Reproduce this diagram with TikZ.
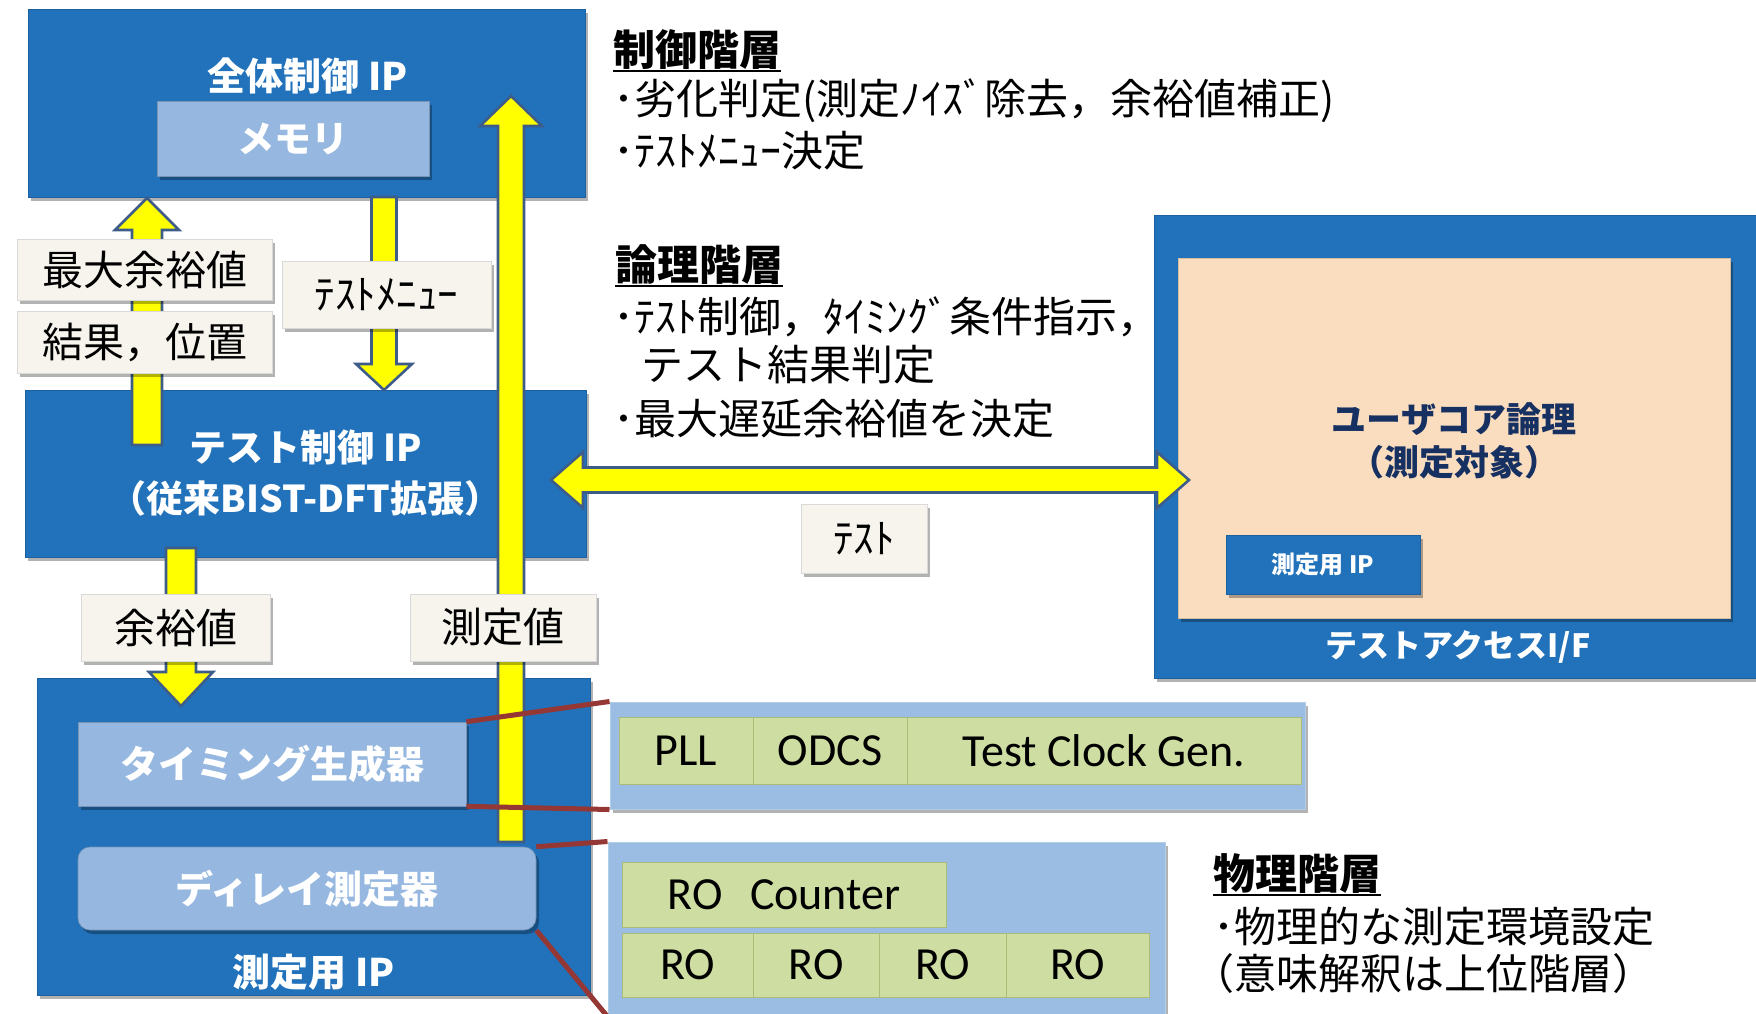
\documentclass[tikz,border=0pt]{standalone}
\usepackage{fontspec}
\setmainfont{Noto Sans CJK JP}
\newfontfamily\calib{Carlito}
\usetikzlibrary{shadows}
\definecolor{bxblue}{RGB}{33,114,187}
\definecolor{ltblue}{RGB}{150,184,224}
\definecolor{panelblue}{RGB}{155,189,228}
\definecolor{creamc}{RGB}{246,244,236}
\definecolor{greenc}{RGB}{206,221,162}
\definecolor{greenb}{RGB}{170,188,120}
\definecolor{peachc}{RGB}{250,221,190}
\definecolor{navyc}{RGB}{22,48,98}
\definecolor{arrowb}{RGB}{62,92,138}
\definecolor{redl}{RGB}{149,55,53}
\definecolor{arrowy}{RGB}{255,255,0}
\newcommand\fz[2]{\fontsize{#1}{#2}\selectfont}
\newcommand\arrUp[6]{% x, tip, bottom, shaft half, head half, head length
  \draw[yarr] ({#1-#4},#3) -- ({#1-#4},{#2+#6}) -- ({#1-#5},{#2+#6}) -- (#1,#2)
    -- ({#1+#5},{#2+#6}) -- ({#1+#4},{#2+#6}) -- ({#1+#4},#3) -- cycle;}
\newcommand\arrDown[6]{% x, top, tip, shaft half, head half, head length
  \draw[yarr] ({#1-#4},#2) -- ({#1-#4},{#3-#6}) -- ({#1-#5},{#3-#6}) -- (#1,#3)
    -- ({#1+#5},{#3-#6}) -- ({#1+#4},{#3-#6}) -- ({#1+#4},#2) -- cycle;}
\tikzset{
  shd/.style={drop shadow={shadow xshift=3pt,shadow yshift=-4pt,opacity=0.3,fill=black}},
  bluebox/.style={fill=bxblue, draw=bxblue!85!black, line width=0.6pt, shd},
  ltbox/.style={fill=ltblue, draw=ltblue!80!black, line width=0.6pt, shd, text=white, font=\fz{38}{38}\bfseries},
  lbl/.style={fill=creamc, draw=black!15, line width=0.6pt, shd, text=black, font=\fz{41}{41}},
  grn/.style={fill=greenc, draw=greenb, line width=1pt, text=black, font=\calib\fz{46}{46}},
  panel/.style={fill=panelblue, draw=bxblue!35, line width=1pt, shd},
  yarr/.style={fill=arrowy, draw=arrowb, line width=2.6pt, line join=miter},
  redline/.style={draw=redl, line width=5pt},
  wtitle/.style={text=white, font=\fz{38}{38}\bfseries},
  btxt/.style={anchor=west, font=\fz{42}{42}, inner sep=0pt, text=black},
  bhead/.style={anchor=west, font=\fz{42}{42}\bfseries, inner sep=0pt, text=black},
  uline/.style={line width=2.5pt, draw=black},
}
\begin{document}
\begin{tikzpicture}[x=1pt,y=-1pt]
\useasboundingbox (0,0) rectangle (1756,1013);
\fill[white] (0,0) rectangle (1756,1013);
\clip (0,0) rectangle (1756,1013);

% ---------- blue blocks (left) ----------
\node[bluebox, minimum width=557pt, minimum height=188pt] (ctrl) at (306.5,103) {};
\node[wtitle] (ctrlT) at (308,76) {全体制御 IP};
\node[ltbox, font=\fz{37}{37}\bfseries, minimum width=272pt, minimum height=75pt] (mem) at (293,138.5) {メモリ};

\node[bluebox, minimum width=561pt, minimum height=167pt, text=white, font=\fz{37}{51}\bfseries, align=center] (tctrl) at (305.5,473.5) {テスト制御 IP\\（従来BIST-DFT拡張）};

\node[bluebox, minimum width=553pt, minimum height=317pt] (mip) at (313.5,836.5) {};
\node[ltbox, minimum width=388pt, minimum height=84pt] (tgen) at (272,764) {タイミング生成器};
\node[ltbox, rounded corners=12pt, minimum width=458pt, minimum height=83pt] (dly) at (307,888.5) {ディレイ測定器};
\node[wtitle] (mipT) at (314,972) {測定用 IP};

% ---------- right block ----------
\node[bluebox, minimum width=616pt, minimum height=463pt] (tai) at (1462,446.5) {};
\node[fill=peachc, draw=peachc!85!black, line width=0.6pt, shd, minimum width=552pt, minimum height=360pt] (ucore) at (1454,438) {};
\node[text=navyc, font=\fz{35}{43}\bfseries, align=center] (ucoreT) at (1454,441) {ユーザコア論理\\（測定対象）};
\node[bluebox, minimum width=194pt, minimum height=59pt, text=white, font=\fz{24}{24}\bfseries] (uip) at (1323,564.5) {測定用 IP};
\node[wtitle, font=\fz{32}{32}\bfseries] (taiT) at (1458,647) {テストアクセスI/F};

% ---------- physical panels ----------
\node[panel, minimum width=695pt, minimum height=107pt] (pllp) at (957.5,755.5) {};
\node[grn, minimum width=134pt, minimum height=67pt] (pll) at (686,750.5) {PLL};
\node[grn, minimum width=154pt, minimum height=67pt] (odcs) at (830,750.5) {ODCS};
\node[grn, minimum width=394pt, minimum height=67pt] (tcg) at (1104,750.5) {Test Clock Gen.};

\node[panel, minimum width=557pt, minimum height=174pt] (rop) at (886.5,929) {};
\node[grn, minimum width=324pt, minimum height=65pt] (roc) at (784,894.5) {RO\hspace{0.6em}Counter};
\node[grn, minimum width=131pt, minimum height=64pt] (ro1) at (687.5,965) {RO};
\node[grn, minimum width=126pt, minimum height=64pt] (ro2) at (816,965) {RO};
\node[grn, minimum width=127pt, minimum height=64pt] (ro3) at (942.5,965) {RO};
\node[grn, minimum width=143pt, minimum height=64pt] (ro4) at (1077.5,965) {RO};

% ---------- yellow block arrows ----------
\arrUp{147}{198}{445}{15}{32}{32}
\arrDown{384}{197}{390}{12.5}{28}{26}
\arrUp{511}{96}{842}{13}{31}{30}
\arrDown{181}{548}{706}{15}{32}{34}
\draw[yarr] (551,480) -- (583,452) -- (583,467.5) -- (1157,467.5) -- (1157,452)
  -- (1189,480) -- (1157,508) -- (1157,492.5) -- (583,492.5) -- (583,508) -- cycle;

% ---------- red connectors ----------
\draw[redline] (tgen.north east) -- (pllp.north west);
\draw[redline] (tgen.south east) -- (pllp.south west);
\draw[redline] (dly.north east) -- (rop.north west);
\draw[redline] (dly.south east) -- (rop.south west);

% ---------- labels ----------
\node[lbl, minimum width=255pt, minimum height=61pt] (lmax) at (144.5,269.5) {最大余裕値};
\node[lbl, minimum width=255pt, minimum height=62pt] (lres) at (144.5,342) {結果，位置};
\node[lbl, minimum width=209pt, minimum height=67pt] (lmenu) at (386.5,294.5) {ﾃｽﾄﾒﾆｭｰ};
\node[lbl, minimum width=126pt, minimum height=69pt] (ltest) at (864,538.5) {ﾃｽﾄ};
\node[lbl, minimum width=189pt, minimum height=67pt] (lmar) at (175.5,627.5) {余裕値};
\node[lbl, minimum width=186pt, minimum height=67pt] (lmeas) at (503,627.5) {測定値};

% ---------- hierarchy texts ----------
\node[bhead] (h1) at (613,50) {制御階層};
\draw[uline] ([yshift=-1pt]h1.south west) -- ([yshift=-1pt]h1.south east);
\node[btxt] (c1) at (613,101) {･劣化判定(測定ﾉｲｽﾞ除去，余裕値補正)};
\node[btxt] (c2) at (613,151) {･ﾃｽﾄﾒﾆｭｰ決定};

\node[bhead] (h2) at (615,265) {論理階層};
\draw[uline] ([yshift=-1pt]h2.south west) -- ([yshift=-1pt]h2.south east);
\node[btxt] (l1) at (613,317) {･ﾃｽﾄ制御，ﾀｲﾐﾝｸﾞ条件指示，};
\node[btxt] (l2) at (641,365) {テスト結果判定};
\node[btxt] (l3) at (613,419) {･最大遅延余裕値を決定};

\node[bhead] (h3) at (1213,874) {物理階層};
\draw[uline] ([yshift=-1pt]h3.south west) -- ([yshift=-1pt]h3.south east);
\node[btxt] (p1) at (1213,927) {･物理的な測定環境設定};
\node[btxt] (p2) at (1192,974) {（意味解釈は上位階層）};
\end{tikzpicture}
\end{document}
